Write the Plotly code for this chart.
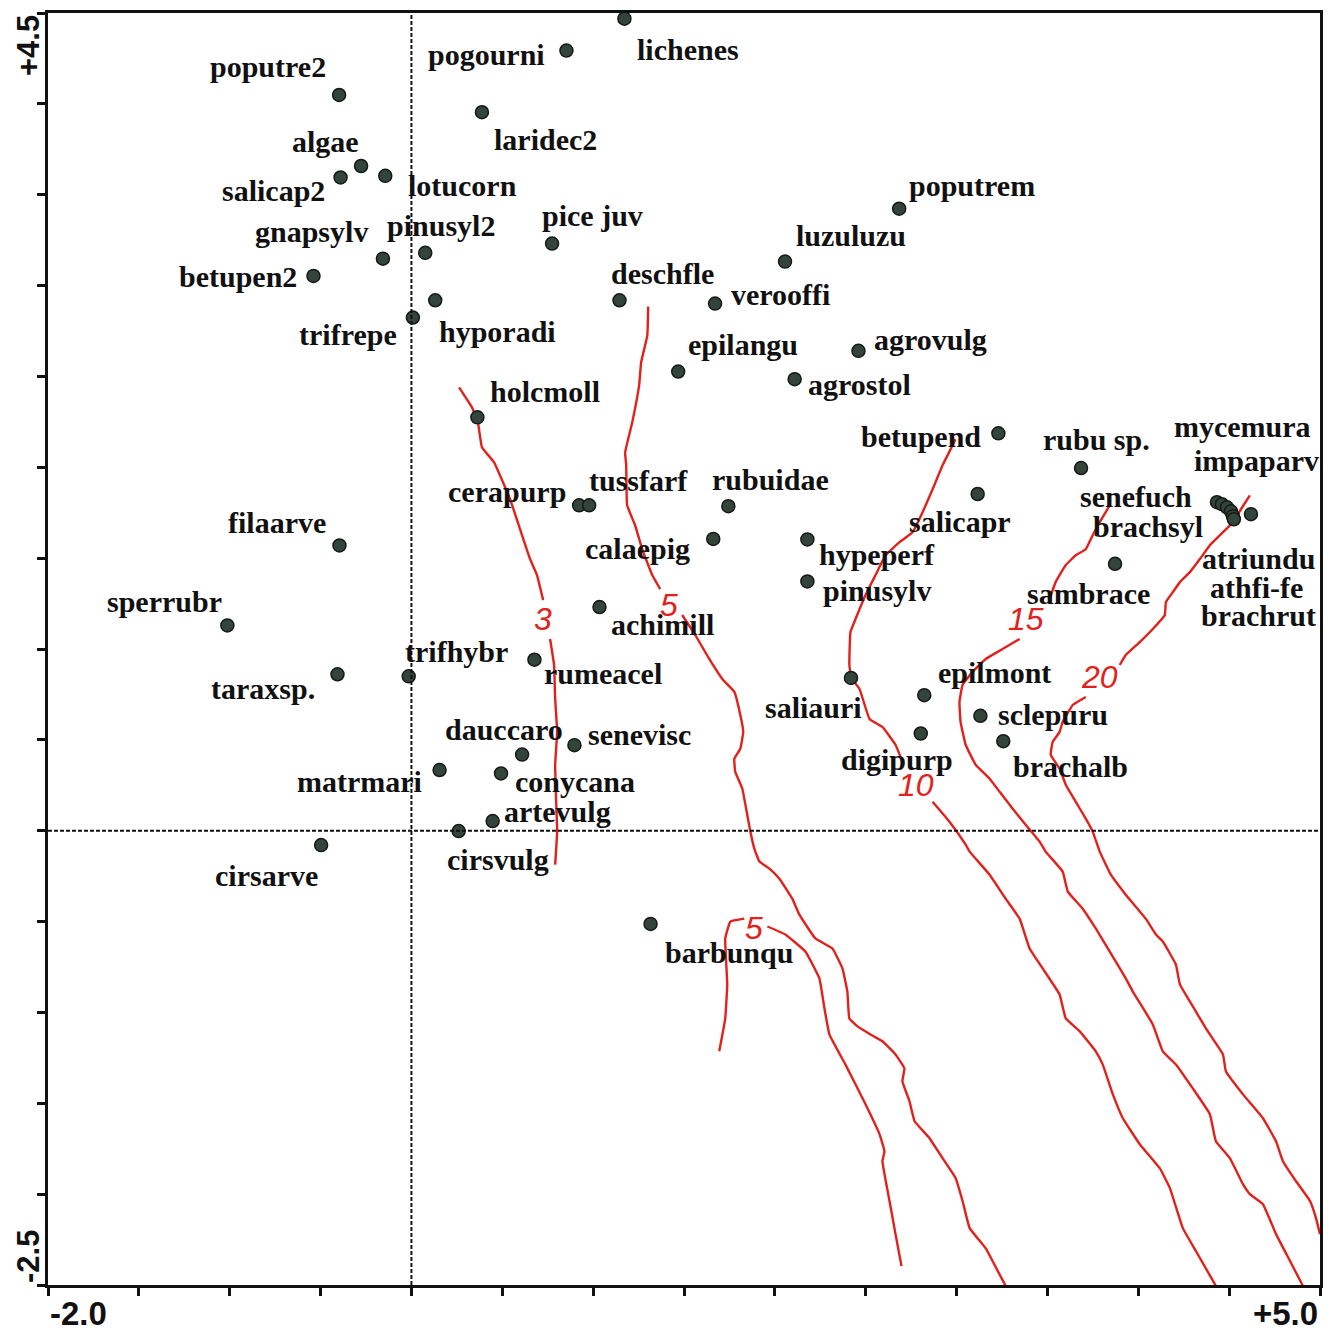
import plotly.graph_objects as go

# ---------------- data (ordination scores) ----------------
species = ["poputre2", "pogourni", "lichenes", "laridec2", "algae", "salicap2", "lotucorn",
           "poputrem", "pice juv", "pinusyl2", "gnapsylv", "betupen2", "luzuluzu", "deschfle",
           "verooffi", "hyporadi", "trifrepe", "epilangu", "agrovulg", "agrostol", "holcmoll",
           "betupend", "rubu sp.", "salicapr", "cerapurp", "tussfarf", "rubuidae", "calaepig",
           "filaarve", "hypeperf", "pinusylv", "sambrace", "sperrubr", "achimill", "trifhybr",
           "rumeacel", "taraxsp.", "saliauri", "epilmont", "sclepuru", "digipurp", "brachalb",
           "dauccaro", "senevisc", "matrmari", "conycana", "artevulg", "cirsvulg", "cirsarve",
           "barbunqu", "mycemura", "impaparv", "senefuch", "brachsyl", "atriundu", "athfi-fe",
           "brachrut"]
axis1 = [-0.398, 0.853, 1.172, 0.388, -0.277, -0.390, -0.144,
         2.684, 0.774, 0.076, -0.157, -0.539, 2.056, 1.145,
         1.671, 0.131, 0.008, 1.468, 2.460, 2.109, 0.363,
         3.230, 3.685, 3.116, 0.923, 0.978, 1.744, 1.661,
         -0.396, 2.179, 2.179, 3.872, -1.013, 1.035, -0.015,
         0.677, -0.407, 2.419, 2.822, 3.131, 2.803, 3.257,
         0.609, 0.897, 0.155, 0.493, 0.447, 0.260, -0.497,
         1.316, 4.433, 4.460, 4.488, 4.510, 4.521, 4.526,
         4.620]
axis2 = [4.049, 4.293, 4.469, 3.954, 3.658, 3.595, 3.604,
         3.423, 3.231, 3.180, 3.148, 3.053, 3.132, 2.919,
         2.901, 2.919, 2.824, 2.527, 2.641, 2.485, 2.275,
         2.187, 1.996, 1.853, 1.791, 1.791, 1.786, 1.606,
         1.570, 1.603, 1.372, 1.469, 1.130, 1.231, 0.850,
         0.941, 0.861, 0.841, 0.746, 0.632, 0.535, 0.493,
         0.419, 0.471, 0.334, 0.315, 0.053, -0.002, -0.079,
         -0.513, 1.808, 1.797, 1.780, 1.758, 1.731, 1.714,
         1.742]

# isolines of the fitted variable (None = gap where the level label sits)
iso3_x = [0.262, 0.333, 0.366, 0.388, 0.455, 0.543, 0.598, 0.653, 0.691, 0.725, None,
          0.763, 0.785, 0.791, 0.802, 0.791, 0.796, 0.802, 0.791]
iso3_y = [2.440, 2.330, 2.247, 2.110, 2.027, 1.824, 1.659, 1.495, 1.407, 1.269, None,
          1.055, 0.912, 0.725, 0.544, 0.363, 0.176, -0.005, -0.187]

iso5a_x = [1.303, 1.298, 1.264, 1.253, 1.215, 1.176, 1.182, 1.187, 1.231, 1.270, 1.325, 1.369, None,
           1.490, 1.562, 1.639, 1.711, 1.777, 1.810, 1.826, 1.810, 1.777, 1.782, 1.821, 1.848,
           1.865, 1.887, 1.915, 1.970, 2.025, 2.096, 2.135, 2.223, 2.317, 2.372, 2.399, 2.410,
           2.455, 2.526, 2.592, 2.664, 2.713, 2.702, 2.741, 2.769, 2.851, 2.923, 2.995, 3.033,
           3.072, 3.160, 3.198, 3.270]
iso5a_y = [2.885, 2.725, 2.577, 2.451, 2.247, 2.082, 2.011, 1.791, 1.681, 1.549, 1.407, 1.330, None,
           1.187, 1.077, 0.945, 0.835, 0.764, 0.637, 0.544, 0.451, 0.396, 0.324, 0.231, 0.088,
           -0.005, -0.099, -0.170, -0.209, -0.264, -0.374, -0.462, -0.593, -0.648, -0.758, -0.885, -1.033,
           -1.077, -1.121, -1.159, -1.231, -1.308, -1.379, -1.489, -1.599, -1.692, -1.802, -1.912, -2.038,
           -2.187, -2.297, -2.368, -2.505]

iso5b_x = [1.694, 1.727, 1.738, 1.727, 1.755, 1.832, None,
           1.959, 2.058, 2.168, 2.245, 2.273, 2.300, 2.388, 2.499, 2.576, 2.603, 2.592, 2.631,
           2.664, 2.697]
iso5b_y = [-1.214, -1.033, -0.846, -0.593, -0.500, -0.484, None,
           -0.527, -0.571, -0.665, -0.813, -0.978, -1.121, -1.286, -1.505, -1.670, -1.764, -1.819, -2.038,
           -2.220, -2.396]

iso10_x = [2.994, 2.978, 2.923, 2.868, 2.813, 2.758, 2.686, 2.609, 2.554, 2.499, 2.444, 2.416,
           2.410, 2.421, 2.466, 2.521, 2.592, 2.664, 2.702, None,
           2.868, 2.961, 3.050, 3.072, 3.182, 3.270, 3.347, 3.402, 3.474, 3.567, 3.601, 3.678,
           3.766, 3.804, 3.860, 3.915, 4.008, 4.118, 4.174, 4.245, 4.317, 4.427]
iso10_y = [2.154, 2.121, 2.011, 1.879, 1.753, 1.643, 1.588, 1.516, 1.407, 1.297, 1.165, 1.093,
           0.912, 0.841, 0.780, 0.615, 0.571, 0.473, 0.379, None,
           0.159, 0.049, -0.077, -0.115, -0.242, -0.374, -0.484, -0.648, -0.758, -0.901, -1.033, -1.104,
           -1.214, -1.286, -1.451, -1.582, -1.725, -1.857, -1.967, -2.187, -2.313, -2.505]

iso15_x = [3.843, 3.788, 3.749, 3.711, 3.656, 3.601, 3.545, 3.512, None,
           3.347, 3.253, 3.160, 3.088, 3.033, 3.016, 3.022, 3.050, 3.105, 3.182, 3.237, 3.309,
           3.380, 3.457, 3.490, 3.584, 3.612, 3.694, 3.766, 3.843, 3.931, 3.970, 4.080, 4.135,
           4.207, 4.300, 4.394, 4.427, 4.504, 4.576, 4.614, 4.686, 4.758, 4.835, 4.906]
iso15_y = [1.791, 1.698, 1.626, 1.549, 1.516, 1.462, 1.368, 1.275, None,
           1.055, 1.000, 0.945, 0.874, 0.802, 0.709, 0.599, 0.473, 0.363, 0.286, 0.214, 0.121,
           0.033, -0.060, -0.115, -0.225, -0.335, -0.429, -0.538, -0.665, -0.813, -0.885, -1.066, -1.214,
           -1.286, -1.418, -1.560, -1.709, -1.802, -1.945, -2.000, -2.055, -2.220, -2.368, -2.505]

iso20_x = [4.614, 4.565, 4.521, 4.449, 4.394, 4.339, 4.284, 4.229, 4.190, 4.152, 4.146, 4.080,
           4.008, 3.931, 3.898, None,
           3.711, 3.639, 3.584, 3.567, 3.529, 3.518, 3.567, 3.601, 3.656, 3.711, 3.749, 3.788,
           3.849, 3.931, 4.041, 4.097, 4.135, 4.207, 4.229, 4.317, 4.372, 4.466, 4.482, 4.576,
           4.686, 4.758, 4.796, 4.868, 4.945, 4.978, 5.000]
iso20_y = [1.846, 1.769, 1.698, 1.626, 1.571, 1.495, 1.423, 1.368, 1.313, 1.258, 1.187, 1.110,
           1.038, 0.967, 0.912, None,
           0.736, 0.692, 0.599, 0.544, 0.489, 0.418, 0.341, 0.253, 0.159, 0.066, -0.005, -0.115,
           -0.242, -0.352, -0.484, -0.571, -0.610, -0.736, -0.846, -0.995, -1.088, -1.231, -1.324, -1.451,
           -1.582, -1.709, -1.819, -1.929, -2.038, -2.132, -2.220]

iso_levels = ["3", "5", "5", "10", "15", "20"]
iso_label_x = [0.725, 1.419, 1.887, 2.774, 3.380, 3.788]
iso_label_y = [1.165, 1.242, -0.533, 0.253, 1.165, 0.846]

# ---------------- styling / layout ----------------
# label placement: pixel offset of label centre from its point (dx right, dy down)
label_offset = {
    "poputre2": (-71, -28), "pogourni": (-80, 4), "lichenes": (64, 31), "laridec2": (64, 27),
    "algae": (-36, -25), "salicap2": (-67, 13), "lotucorn": (77, 10), "poputrem": (73, -23),
    "pice juv": (40, -28), "pinusyl2": (16, -27), "gnapsylv": (-71, -27), "betupen2": (-75, 1),
    "luzuluzu": (66, -26), "deschfle": (43, -27), "verooffi": (65, -9), "hyporadi": (62, 31),
    "trifrepe": (-65, 17), "epilangu": (65, -27), "agrovulg": (72, -11), "agrostol": (65, 5),
    "holcmoll": (68, -26), "betupend": (-77, 3), "rubu sp.": (15, -29), "salicapr": (-18, 27),
    "cerapurp": (-72, -14), "tussfarf": (49, -25), "rubuidae": (42, -27), "calaepig": (-76, 10),
    "filaarve": (-62, -23), "hypeperf": (70, 15), "pinusylv": (70, 9), "sambrace": (-27, 30),
    "sperrubr": (-63, -24), "achimill": (63, 17), "trifhybr": (48, -25), "rumeacel": (69, 14),
    "taraxsp.": (-74, 14), "saliauri": (-38, 30), "epilmont": (70, -23), "sclepuru": (73, -1),
    "digipurp": (-24, 26), "brachalb": (67, 25), "dauccaro": (-18, -25), "senevisc": (65, -11),
    "matrmari": (-80, 11), "conycana": (74, 8), "artevulg": (65, -10), "cirsvulg": (39, 28),
    "cirsarve": (-55, 30), "barbunqu": (78, 29), "mycemura": (26, -76), "impaparv": (35, -44),
    "senefuch": (-91, -11), "brachsyl": (-83, 15), "atriundu": (26, 42), "athfi-fe": (23, 68),
    "brachrut": (8, 101),
}

RED = "#e3211c"
LABEL_FONT = dict(family="Liberation Serif, Times New Roman, serif", size=30, color="#111111")
AXIS_FONT = dict(family="Liberation Sans, Arial, sans-serif", size=33, color="#111111")
YAXIS_FONT = dict(family="Liberation Sans, Arial, sans-serif", size=31, color="#111111")
ISO_FONT = dict(family="Liberation Sans Narrow, Liberation Sans, Arial, sans-serif", size=32, color=RED)

fig = go.Figure()

for xs, ys in [(iso3_x, iso3_y), (iso5a_x, iso5a_y), (iso5b_x, iso5b_y),
               (iso10_x, iso10_y), (iso15_x, iso15_y), (iso20_x, iso20_y)]:
    fig.add_trace(go.Scatter(x=xs, y=ys, mode="lines", connectgaps=False,
                             line=dict(color=RED, width=2.4, shape="spline", smoothing=0.3),
                             hoverinfo="skip", showlegend=False))

fig.add_trace(go.Scatter(x=axis1, y=axis2, mode="markers", text=species,
                         marker=dict(size=13, color="#33453a", line=dict(color="#141a16", width=1.5)),
                         showlegend=False, hovertemplate="%{text}<extra></extra>"))

annotations = []
for name, xv, yv in zip(species, axis1, axis2):
    dx, dy = label_offset[name]
    annotations.append(dict(x=xv, y=yv, xref="x", yref="y", text="<b>%s</b>" % name,
                            showarrow=False, xshift=dx, yshift=-dy, font=LABEL_FONT,
                            xanchor="center", yanchor="middle"))
for lev, xv, yv in zip(iso_levels, iso_label_x, iso_label_y):
    annotations.append(dict(x=xv, y=yv, xref="x", yref="y", text="<i>%s</i>" % lev,
                            showarrow=False, font=ISO_FONT, xanchor="center", yanchor="middle"))

# axis end labels
annotations += [
    dict(x=0, y=0, xref="paper", yref="paper", text="<b>-2.0</b>", showarrow=False, font=AXIS_FONT,
         xanchor="left", yanchor="top", yshift=-8),
    dict(x=1, y=0, xref="paper", yref="paper", text="<b>+5.0</b>", showarrow=False, font=AXIS_FONT,
         xanchor="right", yanchor="top", yshift=-8),
    dict(x=0, y=1, xref="paper", yref="paper", text="<b>+4.5</b>", showarrow=False, font=YAXIS_FONT,
         textangle=-90, xanchor="right", yanchor="top", xshift=0),
    dict(x=0, y=0, xref="paper", yref="paper", text="<b>-2.5</b>", showarrow=False, font=YAXIS_FONT,
         textangle=-90, xanchor="right", yanchor="bottom", xshift=0),
]

shapes = [
    dict(type="line", xref="x", yref="paper", x0=0, x1=0, y0=0, y1=1,
         line=dict(color="#111111", width=2, dash="4px,2px")),
    dict(type="line", xref="paper", yref="y", x0=0, x1=1, y0=0, y1=0,
         line=dict(color="#111111", width=2, dash="4px,2px")),
]

# the page body adds an 8px margin, so the figure is sized/margined to land the frame
# at the reference's position (x 48..1320, y 10..1285) within the 1332x1336 window
fig.update_layout(
    width=1324, height=1328,
    margin=dict(l=40, r=12, t=2, b=51),
    paper_bgcolor="white", plot_bgcolor="white",
    annotations=annotations, shapes=shapes,
    xaxis=dict(range=[-2.0, 5.0], showgrid=False, zeroline=False, showline=True, mirror=True,
               linecolor="#111111", linewidth=3, ticks="outside", ticklen=8, tickwidth=3,
               tickcolor="#111111", dtick=0.5, tick0=0, showticklabels=False),
    yaxis=dict(range=[-2.5, 4.5], showgrid=False, zeroline=False, showline=True, mirror=True,
               linecolor="#111111", linewidth=3, ticks="outside", ticklen=8, tickwidth=3,
               tickcolor="#111111", dtick=0.5, tick0=0, showticklabels=False),
)

fig.write_html("out.html")
